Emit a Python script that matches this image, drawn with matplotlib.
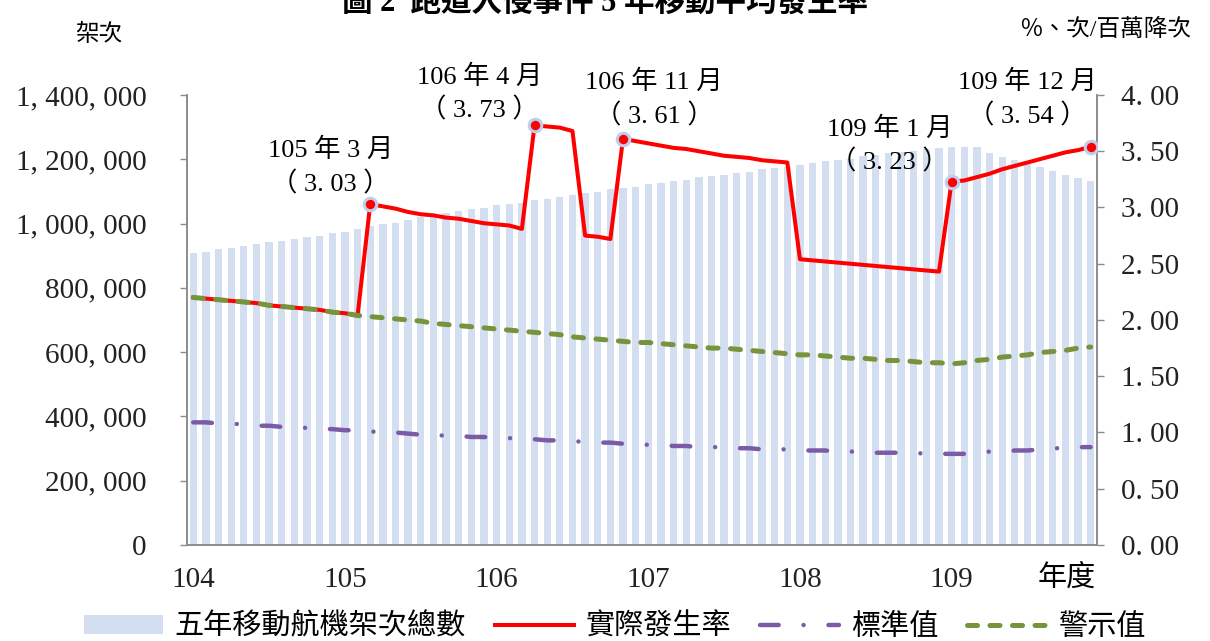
import matplotlib.pyplot as plt
from matplotlib.ticker import FuncFormatter, MultipleLocator
from matplotlib.lines import Line2D
from matplotlib.patches import Patch

plt.rcParams['font.family'] = ['Liberation Serif', 'Noto Sans CJK TC']

# 104年1月 ~ 109年12月，共 72 個月
years = ['104', '105', '106', '107', '108', '109']

# 五年移動航機架次總數（架次）
flights = [907500, 911500, 920900, 925000, 929200, 937500, 941700, 945800, 953100, 958200, 962300, 969600,
           973800, 983100, 992000, 998700, 1002800, 1011100, 1021500, 1026700, 1032000, 1039000, 1044400, 1048400,
           1056800, 1060900, 1065000, 1073300, 1077400, 1081700, 1089900, 1094200, 1099400, 1106800, 1110700, 1114800,
           1123100, 1127200, 1131400, 1135600, 1143900, 1148000, 1152100, 1156400, 1160400, 1168800, 1172900, 1177000,
           1181300, 1189500, 1193700, 1197800, 1201900, 1210200, 1214300, 1218600, 1222700, 1226700, 1231000, 1235100,
           1239200, 1239200, 1239200, 1220000, 1208000, 1198000, 1188000, 1175000, 1163000, 1152000, 1141000, 1132000]

# 實際發生率（次/百萬降次）
rate = [2.20, 2.19, 2.18, 2.17, 2.16, 2.15, 2.13, 2.12, 2.11, 2.10, 2.09, 2.07,
        2.06, 2.04, 3.03, 3.01, 2.99, 2.96, 2.94, 2.93, 2.91, 2.90, 2.88, 2.86,
        2.85, 2.84, 2.81, 3.73, 3.72, 3.71, 3.68, 2.75, 2.74, 2.72, 3.61, 3.59,
        3.57, 3.55, 3.53, 3.52, 3.50, 3.48, 3.46, 3.45, 3.44, 3.42, 3.41, 3.40,
        2.54, 2.53, 2.52, 2.51, 2.50, 2.49, 2.48, 2.47, 2.46, 2.45, 2.44, 2.43,
        3.23, 3.24, 3.27, 3.30, 3.34, 3.37, 3.40, 3.43, 3.46, 3.49, 3.51, 3.54]

# 標準值
standard = [1.09, 1.09, 1.08, 1.08, 1.07, 1.06, 1.06, 1.05, 1.05, 1.04, 1.03, 1.03,
            1.02, 1.02, 1.01, 1.00, 1.00, 0.99, 0.98, 0.98, 0.97, 0.97, 0.96, 0.96,
            0.95, 0.95, 0.94, 0.94, 0.93, 0.93, 0.92, 0.92, 0.91, 0.91, 0.90, 0.90,
            0.89, 0.89, 0.88, 0.88, 0.87, 0.87, 0.87, 0.86, 0.86, 0.85, 0.85, 0.85,
            0.84, 0.84, 0.84, 0.83, 0.83, 0.83, 0.82, 0.82, 0.82, 0.82, 0.81, 0.81,
            0.81, 0.81, 0.82, 0.83, 0.83, 0.84, 0.84, 0.85, 0.86, 0.86, 0.87, 0.87]

# 警示值
warning = [2.20, 2.19, 2.18, 2.17, 2.16, 2.15, 2.13, 2.12, 2.11, 2.10, 2.09, 2.07,
           2.06, 2.04, 2.03, 2.02, 2.01, 2.00, 1.99, 1.97, 1.96, 1.95, 1.94, 1.93,
           1.92, 1.91, 1.90, 1.89, 1.88, 1.87, 1.85, 1.84, 1.83, 1.82, 1.81, 1.80,
           1.80, 1.79, 1.78, 1.77, 1.76, 1.75, 1.75, 1.74, 1.73, 1.72, 1.71, 1.70,
           1.69, 1.69, 1.68, 1.67, 1.66, 1.66, 1.65, 1.64, 1.64, 1.63, 1.62, 1.62,
           1.61, 1.62, 1.64, 1.65, 1.67, 1.68, 1.69, 1.71, 1.72, 1.73, 1.75, 1.76]

# 標示的月份（索引）與文字
event_idx = [14, 27, 34, 60, 71]
event_text = ['105 年 3 月', '106 年 4 月', '106 年 11 月', '109 年 1 月', '109 年 12 月']
event_offset = [(-40, 37), (-55, 32), (31, 40), (-62, 36), (-63, 48)]

x = list(range(len(flights)))

fig = plt.figure(figsize=(12.1, 6.41), dpi=100)
ax1 = fig.add_axes([0.1545, 0.1498, 0.7521, 0.7020])
ax2 = ax1.twinx()

bar_color = '#d3dff0'
red = '#ff0000'
purple = '#7b5aa6'
green = '#77933c'
axis_gray = '#8c8c8c'

ax1.bar(x, flights, width=0.58, color=bar_color, zorder=1)
ax1.set_xlim(-0.5, len(flights) - 0.5)
ax1.set_ylim(0, 1400000)
ax1.yaxis.set_major_locator(MultipleLocator(200000))
ax1.yaxis.set_major_formatter(FuncFormatter(lambda v, p: f'{int(v):,}'.replace(',', ', ')))

ax2.set_ylim(0, 4)
ax2.yaxis.set_major_locator(MultipleLocator(0.5))
ax2.yaxis.set_major_formatter(FuncFormatter(lambda v, p: f'{v:.2f}'.replace('.', '. ')))

ax2.plot(x, rate, color=red, lw=2.9, solid_joinstyle='round', zorder=2)
ax2.plot(x, standard, color=purple, lw=3.2, linestyle=(0, (4.2, 5.6, 0.01, 5.6)),
         dash_capstyle='round', zorder=3)
ax2.plot(x, warning, color=green, lw=3.6, linestyle=(0, (2.0, 2.5)),
         dash_capstyle='round', zorder=4)

ev_y = [rate[i] for i in event_idx]
ax2.plot(event_idx, ev_y, 'o', color=red, ms=9, mec='#bcd0ee', mew=2.2, zorder=5)
for i, txt, off in zip(event_idx, event_text, event_offset):
    val = f'{rate[i]:.2f}'.replace('.', '. ')
    ax2.annotate(f'{txt}\n（ {val} ）', (i, rate[i]), xytext=off, textcoords='offset pixels',
                 ha='center', va='center', fontsize=19, linespacing=1.45, zorder=6)

ax1.set_xticks([12 * k for k in range(len(years))])
ax1.set_xticklabels(years)
ax1.tick_params(axis='x', length=0, pad=16, labelsize=21, colors='#222222')
ax1.tick_params(axis='y', length=5, width=1, pad=24, labelsize=21, colors=axis_gray, labelcolor='#222222')
ax2.tick_params(axis='y', length=5, width=1, pad=12, labelsize=21, colors=axis_gray, labelcolor='#222222')

for ax in (ax1, ax2):
    ax.spines['top'].set_visible(False)
    for s in ('left', 'right', 'bottom'):
        ax.spines[s].set_color(axis_gray)
        ax.spines[s].set_linewidth(1.2)

fig.text(0.5, 0.995, '圖 2  跑道入侵事件 5 年移動平均發生率', ha='center', va='center',
         fontsize=22, fontweight='bold')
fig.text(0.082, 0.945, '架次', ha='center', va='center', fontsize=17)
fig.text(0.913, 0.953, '％、次/百萬降次', ha='center', va='center', fontsize=17)
fig.text(0.8818, 0.0983, '年度', ha='center', va='center', fontsize=21)

handles = [
    Patch(facecolor=bar_color, edgecolor='none'),
    Line2D([], [], color=red, lw=2.9),
    Line2D([], [], color=purple, lw=3.2, linestyle=(0, (4.2, 5.6, 0.01, 5.6)), dash_capstyle='round'),
    Line2D([], [], color=green, lw=3.6, linestyle=(0, (2.0, 2.5)), dash_capstyle='round'),
]
labels = ['五年移動航機架次總數', '實際發生率', '標準值', '警示值']
fig.legend(handles, labels, loc='center', bbox_to_anchor=(0.508, 0.022), ncol=4, frameon=False,
           fontsize=21, handlelength=2.7, handleheight=0.6, handletextpad=0.4, columnspacing=1.0)

fig.savefig('out.png', dpi=100)
